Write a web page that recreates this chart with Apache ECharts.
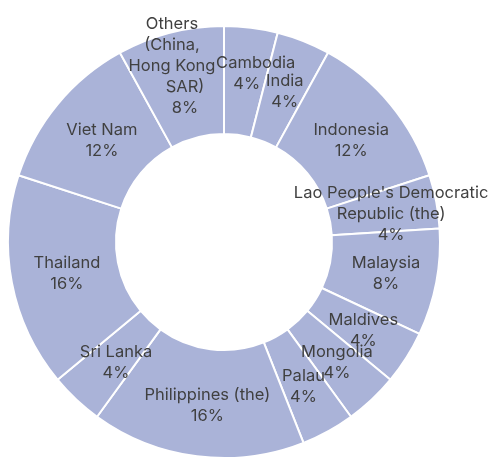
<!DOCTYPE html>
<html>
<head>
<meta charset="utf-8">
<script src="https://cdn.jsdelivr.net/npm/echarts@6/dist/echarts.min.js"></script>
<style>html,body{margin:0;padding:0;background:#fff;}#c{width:493px;height:461px;}</style>
</head>
<body>
<div id="c"></div>
<script>
const categories = ["Cambodia", "India", "Indonesia", "Lao People's Democratic Republic (the)", "Malaysia", "Maldives", "Mongolia", "Palau", "Philippines (the)", "Sri Lanka", "Thailand", "Viet Nam", "Others (China, Hong Kong SAR)"];
const values = [1, 1, 3, 1, 2, 1, 1, 1, 4, 1, 4, 3, 2];

// how long names wrap in the picture
const labelLines = {
  "Lao People's Democratic Republic (the)": ["Lao People's Democratic", "Republic (the)"],
  "Others (China, Hong Kong SAR)": ["Others", "(China,", "Hong Kong", "SAR)"]
};
// small per-label nudges (style only)
const labelNudge = {
  "Cambodia": { offset: [2, -5], shifted: [0] },
  "India": { offset: [0, 3], shifted: [] },
  "Indonesia": { offset: [0, 4], shifted: [] },
  "Lao People's Democratic Republic (the)": { offset: [5, 3], shifted: [] },
  "Malaysia": { offset: [0, 1], shifted: [] },
  "Philippines (the)": { offset: [4, 0], shifted: [] },
  "Sri Lanka": { offset: [5, 0], shifted: [] },
  "Thailand": { offset: [5, 1], shifted: [] },
  "Viet Nam": { offset: [5, 4], shifted: [] },
  "Others (China, Hong Kong SAR)": { offset: [-11, -16], shifted: [3, 4], pad: 26 }
};

const baseText = { fontFamily: 'Inter', fontSize: 16.5, lineHeight: 21, color: '#404040' };

const chart = echarts.init(document.getElementById('c'), null, {renderer: 'canvas'});
chart.setOption({
  animation: false,
  series: [{
    type: 'pie',
    center: [224, 242],
    radius: [108, 216],
    startAngle: 90,
    clockwise: true,
    avoidLabelOverlap: false,
    labelLayout: { hideOverlap: false },
    itemStyle: { color: '#aab3d8', borderColor: '#ffffff', borderWidth: 2 },
    label: Object.assign({
      show: true,
      position: 'inside',
      formatter: function (p) {
        const lines = (labelLines[p.name] || [p.name]).concat([Math.round(p.percent) + '%']);
        const nudge = labelNudge[p.name];
        return lines.map((l, i) => {
          const s = nudge && nudge.shifted.indexOf(i) >= 0 ? (nudge.pad ? 's' : 'c') : 'n';
          return '{' + s + '|' + l + '}';
        }).join('\n');
      },
      rich: {
        n: Object.assign({}, baseText),
        s: Object.assign({ padding: [0, 0, 0, 26] }, baseText),
        c: Object.assign({ padding: [0, 0, 0, 18] }, baseText)
      }
    }, baseText),
    labelLine: { show: false },
    emphasis: { disabled: true },
    data: categories.map((c, i) => {
      const d = { name: c, value: values[i] };
      if (labelNudge[c]) d.label = { offset: labelNudge[c].offset };
      return d;
    })
  }]
});
</script>
</body>
</html>
